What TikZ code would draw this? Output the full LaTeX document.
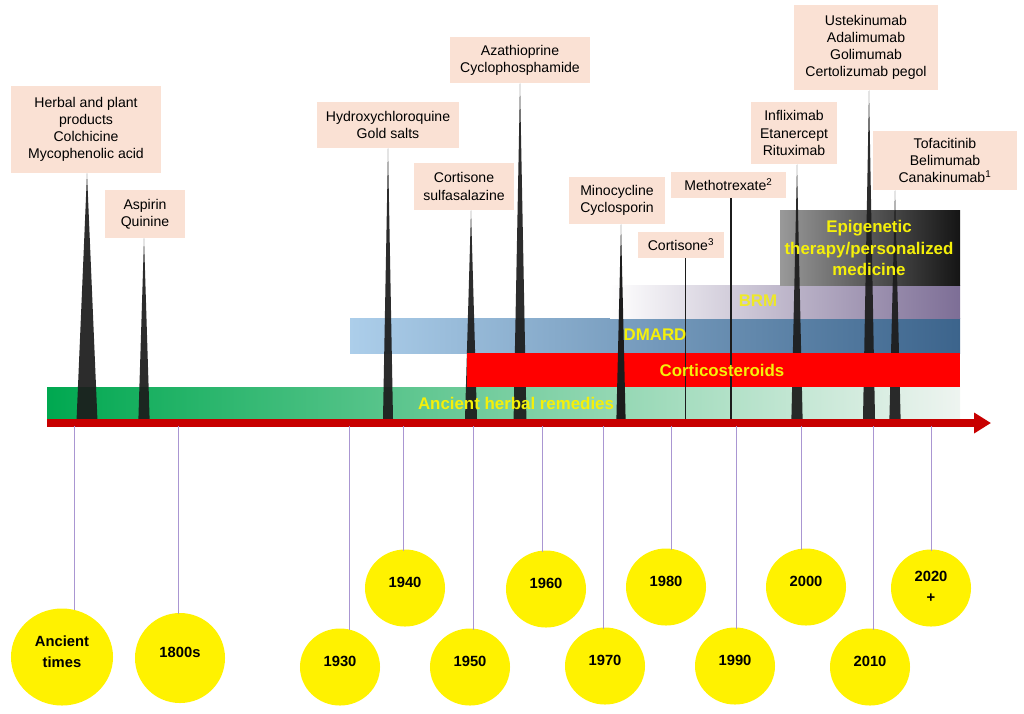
\documentclass[tikz,border=0pt]{standalone}
\usepackage{fontspec}
\setmainfont{Liberation Sans}
\usepackage{xcolor}
\usetikzlibrary{shapes.geometric, arrows.meta, positioning}
\definecolor{LabelPeach}{RGB}{250,225,212}
\definecolor{HerbGreen}{RGB}{0,168,80}
\definecolor{HerbMid}{RGB}{125,200,160}
\definecolor{HerbPale}{RGB}{238,244,240}
\definecolor{DmardLight}{RGB}{172,206,234}
\definecolor{DmardDark}{RGB}{60,100,140}
\definecolor{BrmDark}{RGB}{125,110,150}
\definecolor{AxisRed}{RGB}{200,0,0}
\definecolor{TickPurple}{RGB}{170,150,210}
\definecolor{BarYellow}{RGB}{245,240,10}
\definecolor{SpikeGrey}{RGB}{28,28,28}

\begin{document}
\begin{tikzpicture}[
    x={(0.025cm,0cm)},   % one reference pixel
    y={(0cm,-0.025cm)},  % y grows downwards, as in the reference
    >=Stealth,
    drug/.style={fill=LabelPeach, align=center, inner sep=0pt, font=\fontsize{10}{12.2}\selectfont},
    bartext/.style={text=BarYellow, align=center, font=\fontsize{12}{15.5}\selectfont\bfseries},
    year/.style={ellipse, fill=yellow, align=center, inner sep=0pt, text depth=8pt, minimum width=2cm, minimum height=1.925cm, font=\fontsize{10.5}{15}\selectfont\bfseries},
    tick/.style={TickPurple, line width=0.6pt, shorten >=-1pt},
    spike/.style={fill=SpikeGrey, opacity=0.93}
]

    \useasboundingbox (0,0) rectangle (1024,713);

    % --- 1. Drug label boxes ---
    \node[drug, minimum width=3.75cm, minimum height=2.175cm] (herbal) at (86,129.5) {Herbal and plant\\products\\Colchicine\\Mycophenolic acid};
    \node[drug, minimum width=2cm, minimum height=1.2cm] (aspirin) at (145,214) {Aspirin\\Quinine};
    \node[drug, minimum width=3.55cm, minimum height=1.15cm] (hcq) at (388,125) {Hydroxychloroquine\\Gold salts};
    \node[drug, minimum width=2.5cm, minimum height=1.175cm] (cortSulfa) at (464,186.5) {Cortisone\\sulfasalazine};
    \node[drug, minimum width=3.5cm, minimum height=1.15cm] (aza) at (520,60) {Azathioprine\\Cyclophosphamide};
    \node[drug, minimum width=2.4cm, minimum height=1.175cm] (mino) at (617,200.5) {Minocycline\\Cyclosporin};
    \node[drug, minimum width=2.15cm, minimum height=0.65cm] (cortisone) at (681,245) {Cortisone\textsuperscript{3}};
    \node[drug, minimum width=2.875cm, minimum height=0.65cm] (mtx) at (728.5,185) {Methotrexate\textsuperscript{2}};
    \node[drug, minimum width=2.15cm, minimum height=1.55cm] (ifx) at (794,133) {Infliximab\\Etanercept\\Rituximab};
    \node[drug, minimum width=3.6cm, minimum height=2.125cm] (ust) at (866,47.5) {Ustekinumab\\Adalimumab\\Golimumab\\Certolizumab pegol};
    \node[drug, minimum width=3.6cm, minimum height=1.475cm] (tofa) at (945,160.5) {Tofacitinib\\Belimumab\\Canakinumab\textsuperscript{1}};

    % --- 2. Therapy bars (behind the spikes) ---
    \shade[left color=HerbGreen, middle color=HerbMid, right color=HerbPale] (47,387) rectangle (960,420);
    \shade[left color=DmardLight, right color=DmardDark] (350,318) rectangle (960,353);
    \shade[left color=white, right color=BrmDark] (610,285) rectangle (960,318);
    \shade[left color=black!40, right color=black!92] (780,210) rectangle (960,285);

    % --- 3. Spikes from the time axis up to the labels ---
    \coordinate (sHerbal) at (87,419);
    \coordinate (sAspirin) at (144,419);
    \coordinate (sHcq) at (388,419);
    \coordinate (sCortSulfa) at (471,419);
    \coordinate (sAza) at (520,419);
    \coordinate (sMino) at (621,419);
    \coordinate (sCortisone) at (685.5,419);
    \coordinate (sMtx) at (731,419);
    \coordinate (sIfx) at (797,419);
    \coordinate (sUst) at (869,419);
    \coordinate (sTofa) at (895,419);

    \fill[spike] ([xshift=-0.26cm]sHerbal) -- (sHerbal |- herbal.south) -- ([xshift=0.26cm]sHerbal) -- cycle;
    \fill[spike] ([xshift=-0.14cm]sAspirin) -- (sAspirin |- aspirin.south) -- ([xshift=0.14cm]sAspirin) -- cycle;
    \fill[spike] ([xshift=-0.125cm]sHcq) -- (sHcq |- hcq.south) -- ([xshift=0.125cm]sHcq) -- cycle;
    \fill[spike] ([xshift=-0.15cm]sCortSulfa) -- (sCortSulfa |- cortSulfa.south) -- ([xshift=0.15cm]sCortSulfa) -- cycle;
    \fill[spike] ([xshift=-0.16cm]sAza) -- (sAza |- aza.south) -- ([xshift=0.16cm]sAza) -- cycle;
    \fill[spike] ([xshift=-0.14cm]sIfx) -- (sIfx |- ifx.south) -- ([xshift=0.14cm]sIfx) -- cycle;
    \fill[spike] ([xshift=-0.15cm]sUst) -- (sUst |- ust.south) -- ([xshift=0.15cm]sUst) -- cycle;
    \fill[spike] ([xshift=-0.14cm]sTofa) -- (sTofa |- tofa.south) -- ([xshift=0.14cm]sTofa) -- cycle;

    % --- 4. Corticosteroids bar (opaque), then what lies on top of it ---
    \fill[red] (467,353) rectangle (960,387);

    \fill[SpikeGrey] ([xshift=-0.115cm]sMino) -- (sMino |- mino.south) -- ([xshift=0.115cm]sMino) -- cycle;
    \draw[SpikeGrey, line width=0.9pt] (sCortisone) -- (sCortisone |- cortisone.south);
    \draw[SpikeGrey, line width=0.9pt] (sMtx) -- (sMtx |- mtx.south);

    % --- 5. Bar labels ---
    \node[bartext] (herbText) at (516,403) {Ancient herbal remedies};
    \node[bartext] (corticoText) at (722,370) {Corticosteroids};
    \node[bartext] (dmardText) at (655,335) {DMARD};
    \node[bartext, opacity=0.85] (brmText) at (758,301) {BRM};
    \node[bartext] (epiText) at (869,248) {Epigenetic\\therapy/personalized\\medicine};

    % --- 6. Time axis ---
    \coordinate (axStart) at (47,423);
    \coordinate (axEnd) at (991,423);
    \draw[AxisRed, line width=5pt, -{Triangle[length=12pt, width=14pt]}] (axStart) -- (axEnd);

    % --- 7. Year bubbles and their ticks ---
    \node[year, minimum width=2.55cm, minimum height=2.425cm] (yAncient) at (62,657) {Ancient\\times};
    \node[year, minimum width=2.25cm, minimum height=2.25cm] (y1800) at (180,658) {1800s};
    \node[year] (y1930) at (340,667) {1930};
    \node[year] (y1940) at (405,588) {1940};
    \node[year] (y1950) at (470,667) {1950};
    \node[year] (y1960) at (546,589) {1960};
    \node[year] (y1970) at (605,666) {1970};
    \node[year] (y1980) at (666,587) {1980};
    \node[year] (y1990) at (735,666) {1990};
    \node[year] (y2000) at (806,587) {2000};
    \node[year] (y2010) at (870,667) {2010};
    \node[year, text depth=2pt] (y2020) at (931,588) {2020\\+};

    \coordinate (tAncient) at (74,426);
    \coordinate (t1800) at (178,426);
    \coordinate (t1930) at (349,426);
    \coordinate (t1940) at (403,426);
    \coordinate (t1950) at (473,426);
    \coordinate (t1960) at (542,426);
    \coordinate (t1970) at (603,426);
    \coordinate (t1980) at (671,426);
    \coordinate (t1990) at (736,426);
    \coordinate (t2000) at (801,426);
    \coordinate (t2010) at (873,426);
    \coordinate (t2020) at (931,426);

    \draw[tick] (tAncient) -- (tAncient |- yAncient.north);
    \draw[tick] (t1800) -- (t1800 |- y1800.north);
    \draw[tick] (t1930) -- (t1930 |- y1930.north);
    \draw[tick] (t1940) -- (t1940 |- y1940.north);
    \draw[tick] (t1950) -- (t1950 |- y1950.north);
    \draw[tick] (t1960) -- (t1960 |- y1960.north);
    \draw[tick] (t1970) -- (t1970 |- y1970.north);
    \draw[tick] (t1980) -- (t1980 |- y1980.north);
    \draw[tick] (t1990) -- (t1990 |- y1990.north);
    \draw[tick] (t2000) -- (t2000 |- y2000.north);
    \draw[tick] (t2010) -- (t2010 |- y2010.north);
    \draw[tick] (t2020) -- (t2020 |- y2020.north);

\end{tikzpicture}
\end{document}
